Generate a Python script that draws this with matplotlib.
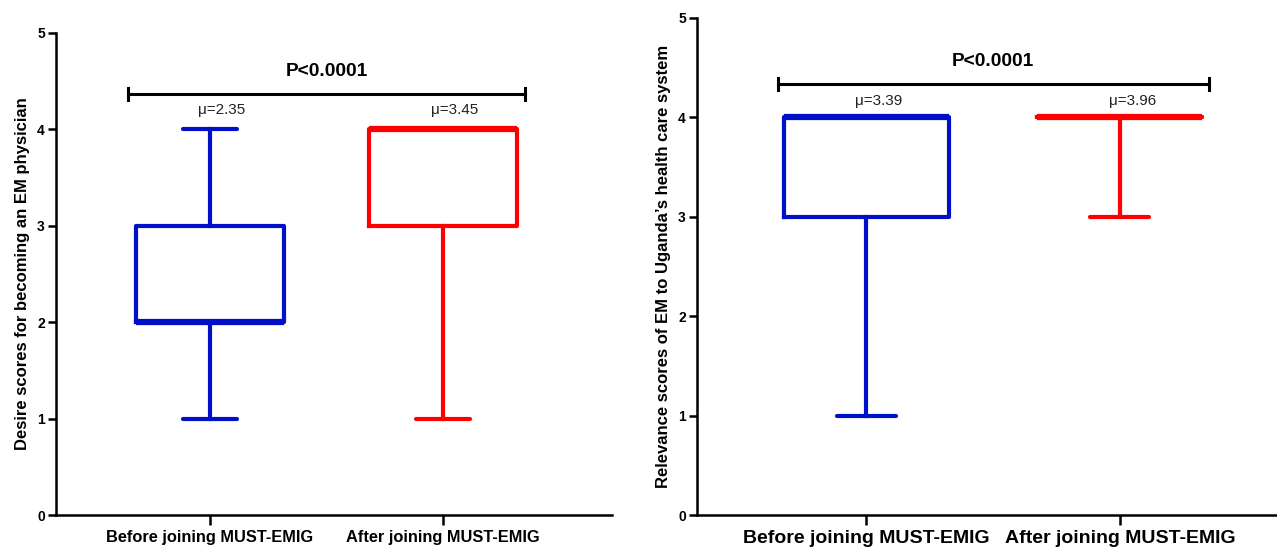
import matplotlib
matplotlib.use("Agg")
import matplotlib.pyplot as plt

plt.rcParams["font.family"] = ["Liberation Sans", "DejaVu Sans"]

groups = ["Before joining MUST-EMIG", "After joining MUST-EMIG"]
colors = ["#0010C8", "#FF0000"]

# desire scores: (whislo, q1, med, q3, whishi)
desire_whislo = [1, 1]
desire_q1 = [2, 3]
desire_med = [2, 4]
desire_q3 = [3, 4]
desire_whishi = [4, 4]
desire_mean = [2.35, 3.45]

# relevance scores
relev_whislo = [1, 3]
relev_q1 = [3, 4]
relev_med = [4, 4]
relev_q3 = [4, 4]
relev_whishi = [4, 4]
relev_mean = [3.39, 3.96]

p_text = "P<0.0001"


def stats(lo, q1, med, q3, hi):
    return [dict(whislo=lo[i], q1=q1[i], med=med[i], q3=q3[i], whishi=hi[i],
                 fliers=[], label=groups[i]) for i in range(len(groups))]


def panel(ax, st, means, ylabel, xlim, bar_y, tick_fs, box_w, xpad):
    for i, s in enumerate(st):
        c = colors[i]
        ax.bxp([s], positions=[i], widths=box_w, showfliers=False,
               boxprops=dict(color=c, lw=3),
               whiskerprops=dict(color=c, lw=3),
               capprops=dict(color=c, lw=3, solid_capstyle="round"),
               medianprops=dict(color=c, lw=4.5),
               capwidths=box_w * 0.36 if s["whislo"] < s["q1"] else box_w,
               manage_ticks=False)
        ax.text(i + 0.05, bar_y - 0.1, f"\u03bc={means[i]:.2f}", ha="center",
                va="top", fontsize=11, color="#222222")
    # significance bracket
    ax.plot([-0.35, 1.35], [bar_y, bar_y], color="black", lw=2.2)
    for x in (-0.35, 1.35):
        ax.plot([x, x], [bar_y - 0.06, bar_y + 0.06], color="black", lw=2.2)
    ax.text(0.5, bar_y + 0.14, p_text, ha="center", va="bottom",
            fontsize=13.8, fontweight="bold")

    ax.set_ylim(0, 5)
    ax.set_xlim(*xlim)
    ax.set_yticks(range(6))
    ax.set_xticks([0, 1], labels=groups)
    for lab in ax.get_yticklabels():
        lab.set_fontweight("bold")
    for lab in ax.get_xticklabels():
        lab.set_fontweight("bold")
        lab.set_fontsize(tick_fs)
    ax.tick_params(axis="y", labelsize=10, width=1.8, length=6, pad=2)
    ax.tick_params(axis="x", width=1.8, length=7, pad=xpad)
    ax.set_ylabel(ylabel, fontsize=12, fontweight="bold", labelpad=5)
    for side in ("top", "right"):
        ax.spines[side].set_visible(False)
    for side in ("left", "bottom"):
        ax.spines[side].set_linewidth(1.8)


fig = plt.figure(figsize=(12.77, 5.47), dpi=100)
ax1 = fig.add_axes([0.0439, 0.0585, 0.4354, 0.8812])
ax2 = fig.add_axes([0.5458, 0.0585, 0.4542, 0.9086])

panel(ax1, stats(desire_whislo, desire_q1, desire_med, desire_q3, desire_whishi),
      desire_mean, "Desire scores for becoming an EM physician",
      (-0.66, 1.725), 4.37, 11.8, 0.635, 4)
panel(ax2, stats(relev_whislo, relev_q1, relev_med, relev_q3, relev_whishi),
      relev_mean, "Relevance scores of EM to Uganda\u2019s health care system",
      (-0.668, 1.62), 4.34, 14, 0.65, 4)

fig.savefig("out.png", dpi=100)
